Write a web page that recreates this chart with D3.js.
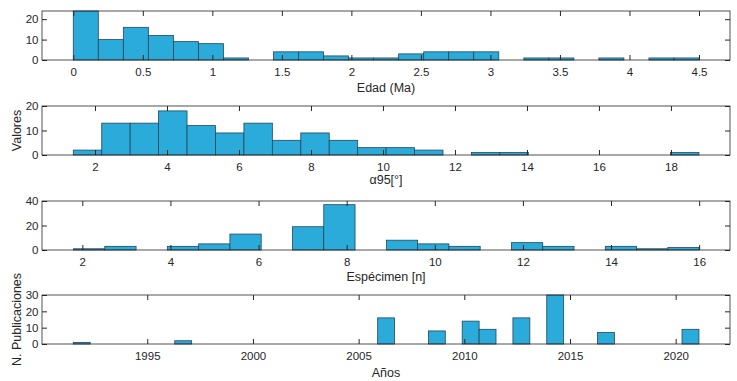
<!DOCTYPE html>
<html>
<head>
<meta charset="utf-8">
<script src="https://cdn.jsdelivr.net/npm/d3@7"></script>
<style>
  body { margin: 0; background: #fff; }
  svg text { font-family: "Liberation Sans", Arial, sans-serif; fill: #262626; }
</style>
</head>
<body>
<div id="chart"></div>
<script>
// histogram counts per bin
const edadCounts = [24, 10, 16, 12, 9, 8, 1, 0, 4, 4, 2, 1, 1, 3, 4, 4, 4, 0, 1, 1, 0, 1, 0, 1, 1];
const edadBins = [0, 0.18];            // first edge, bin width
const edadTicks = [0, 0.5, 1, 1.5, 2, 2.5, 3, 3.5, 4, 4.5];

const alphaCounts = [2, 13, 13, 18, 12, 9, 13, 6, 9, 6, 3, 3, 2, 0, 1, 1, 0, 0, 0, 0, 0, 1];
const alphaBins = [1.397, 0.79];
const alphaTicks = [2, 4, 6, 8, 10, 12, 14, 16, 18];

const especCounts = [1, 3, 0, 3, 5, 13, 0, 19, 37, 0, 8, 5, 3, 0, 6, 3, 0, 3, 1, 2];
const especBins = [1.8, 0.71];
const especTicks = [2, 4, 6, 8, 10, 12, 14, 16];

const anioCounts = [1, 0, 0, 0, 0, 0, 2, 0, 0, 0, 0, 0, 0, 0, 0, 0, 0, 0, 16, 0, 0, 8, 0, 14, 9, 0, 16, 0, 30, 0, 0, 7, 0, 0, 0, 0, 9];
const anioBins = [1991.5, 0.8];
const anioTicks = [1995, 2000, 2005, 2010, 2015, 2020];

const panels = [
  { counts: edadCounts, bins: edadBins, xTicks: edadTicks, xDom: [-0.225, 4.723], yDom: [0, 24], yTicks: [0, 10, 20],
    top: 11, bottom: 60, xlabel: "Edad (Ma)", labelDy: 32 },
  { counts: alphaCounts, bins: alphaBins, xTicks: alphaTicks, xDom: [0.528, 19.64], yDom: [0, 20], yTicks: [0, 10, 20],
    top: 106, bottom: 155, xlabel: "α95[°]", labelDy: 29, ylabel: "Valores" },
  { counts: especCounts, bins: especBins, xTicks: especTicks, xDom: [1.085, 16.70], yDom: [0, 40], yTicks: [0, 20, 40],
    top: 201, bottom: 250, xlabel: "Espécimen [n]", labelDy: 31 },
  { counts: anioCounts, bins: anioBins, xTicks: anioTicks, xDom: [1990.02, 2022.57], yDom: [0, 30], yTicks: [0, 10, 20, 30],
    top: 295, bottom: 344, xlabel: "Años", labelDy: 33, ylabel: "N. Publicaciones" }
];

const W = 737, H = 381;
const left = 42, right = 730;
const fmt = d => String(d);

const svg = d3.select("#chart").append("svg")
  .attr("width", W)
  .attr("height", H);

panels.forEach(function (p) {
  const x = d3.scaleLinear().domain(p.xDom).range([left, right]);
  const y = d3.scaleLinear().domain(p.yDom).range([p.bottom, p.top]);
  const g = svg.append("g");

  const bins = p.counts.map((c, i) => ({ x0: p.bins[0] + i * p.bins[1], x1: p.bins[0] + (i + 1) * p.bins[1], n: c }))
    .filter(d => d.n > 0);

  // bars
  g.selectAll("rect.bar")
    .data(bins)
    .enter()
    .append("rect")
    .attr("class", "bar")
    .attr("x", d => x(d.x0))
    .attr("y", d => y(d.n))
    .attr("width", d => x(d.x1) - x(d.x0))
    .attr("height", d => y(0) - y(d.n))
    .attr("fill", "#2aabda")
    .attr("stroke", "#24465a")
    .attr("stroke-width", 0.8);

  // axes, ticks inward like matlab
  const tickLen = 5;
  g.append("g")
    .attr("transform", "translate(0," + p.bottom + ")")
    .call(d3.axisBottom(x).tickValues(p.xTicks).tickSize(-tickLen).tickPadding(8).tickFormat(fmt))
    .call(a => a.select(".domain").remove())
    .call(a => a.selectAll("text").attr("font-size", 11.5).attr("dy", "0.71em"));
  g.append("g")
    .attr("transform", "translate(0," + p.top + ")")
    .call(d3.axisTop(x).tickValues(p.xTicks).tickSize(-tickLen).tickFormat(""))
    .call(a => a.select(".domain").remove());
  g.append("g")
    .attr("transform", "translate(" + left + ",0)")
    .call(d3.axisLeft(y).tickValues(p.yTicks).tickSize(-tickLen).tickPadding(3.5).tickFormat(fmt))
    .call(a => a.select(".domain").remove())
    .call(a => a.selectAll("text").attr("font-size", 11.5));
  g.append("g")
    .attr("transform", "translate(" + right + ",0)")
    .call(d3.axisRight(y).tickValues(p.yTicks).tickSize(-tickLen).tickFormat(""))
    .call(a => a.select(".domain").remove());
  g.selectAll(".tick line").attr("stroke", "#262626");

  g.append("rect")
    .attr("x", left)
    .attr("y", p.top)
    .attr("width", right - left)
    .attr("height", p.bottom - p.top)
    .attr("fill", "none")
    .attr("stroke", "#262626")
    .attr("stroke-width", 0.8);

  g.append("text")
    .attr("x", (left + right) / 2)
    .attr("y", p.bottom + p.labelDy)
    .attr("text-anchor", "middle")
    .attr("font-size", 12.5)
    .text(p.xlabel);

  if (p.ylabel) {
    g.append("text")
      .attr("transform", "translate(21," + (p.top + p.bottom) / 2 + ")rotate(-90)")
      .attr("text-anchor", "middle")
      .attr("font-size", 12.5)
      .text(p.ylabel);
  }
});
</script>
</body>
</html>
